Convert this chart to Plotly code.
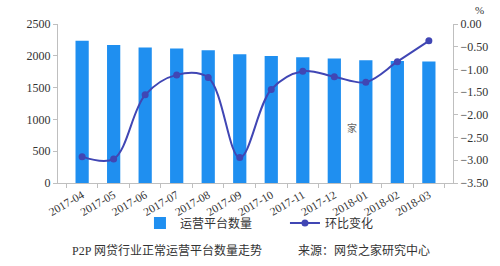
import plotly.graph_objects as go

months = ["2017-04", "2017-05", "2017-06", "2017-07", "2017-08", "2017-09",
          "2017-10", "2017-11", "2017-12", "2018-01", "2018-02", "2018-03"]
platforms = [2236, 2168, 2131, 2115, 2089, 2025, 1998, 1978, 1957, 1930, 1919, 1909]
mom_change = [-2.92, -2.97, -1.56, -1.12, -1.18, -2.94, -1.44, -1.04, -1.16, -1.28, -0.83, -0.37]

FONT = "Liberation Serif, Times New Roman, Noto Sans CJK SC, serif"
AX = "#bfbfbf"

fig = go.Figure()
fig.add_trace(go.Bar(
    x=months, y=platforms, name="运营平台数量",
    marker=dict(color="#1f8ff0", line=dict(width=0)),
    width=0.42, yaxis="y",
))
fig.add_trace(go.Scatter(
    x=months, y=mom_change, name="环比变化", yaxis="y2",
    mode="lines+markers", line=dict(color="#4046b4", width=2, shape="spline", smoothing=1.0),
    marker=dict(color="#4046b4", size=7),
))

fig.update_layout(
    width=500, height=266,
    margin=dict(l=58, r=42, t=24, b=83),
    paper_bgcolor="white", plot_bgcolor="white",
    font=dict(family=FONT, size=11, color="#333333"),
    showlegend=True,
    legend=dict(orientation="h", x=(141 - 58) / 400, y=(183 - 223) / 159, xanchor="left", yanchor="middle",
                font=dict(size=12, family="Noto Sans CJK SC, sans-serif", color="#333"),
                itemwidth=30, entrywidth=100, entrywidthmode="pixels",
                tracegroupgap=0, bgcolor="rgba(0,0,0,0)"),
    xaxis=dict(type="category", tickangle=-30, showline=True, linecolor=AX,
               ticks="outside", tickcolor=AX, ticklen=4, tickson="boundaries",
               showgrid=False, tickfont=dict(size=11.5, family=FONT, color="#333")),
    yaxis=dict(range=[0, 2500], dtick=500, showline=True, linecolor=AX,
               ticks="outside", tickcolor=AX, ticklen=4, showgrid=False, zeroline=False,
               tickfont=dict(size=12, family=FONT, color="#333")),
    yaxis2=dict(range=[-3.5, 0], dtick=0.5, tickformat=".2f", overlaying="y", side="right",
                showline=True, linecolor=AX, ticks="outside", tickcolor=AX, ticklen=4,
                showgrid=False, zeroline=False,
                tickfont=dict(size=12, family=FONT, color="#333")),
    bargap=0.5,
)

fig.add_annotation(xref="paper", yref="paper", x=1.05, y=1.04, text="%", showarrow=False,
                   font=dict(size=11, family=FONT, color="#333"), xanchor="left", yanchor="bottom")
fig.add_annotation(xref="paper", yref="paper", x=(363 - 58) / 400, y=(183 - 127) / 159, text="家",
                   showarrow=False, textangle=0, font=dict(size=10, family="Noto Sans CJK SC", color="#666"))
fig.add_annotation(xref="paper", yref="paper", x=(70 - 58) / 400, y=(183 - 250) / 159,
                   text="P2P 网贷行业正常运营平台数量走势　　　来源：网贷之家研究中心",
                   showarrow=False, xanchor="left", yanchor="middle",
                   font=dict(size=12, family="Liberation Serif, Noto Sans CJK SC", color="#333"))

fig.write_html("out.html")
